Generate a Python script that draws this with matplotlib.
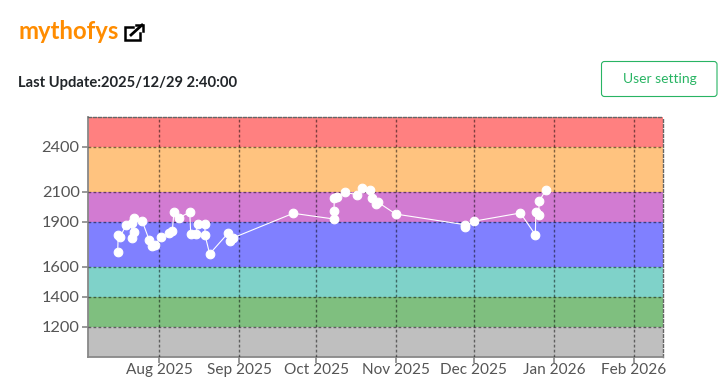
import matplotlib
matplotlib.use('Agg')
import matplotlib.pyplot as plt
import matplotlib.dates as mdates
import pandas as pd
from matplotlib.patches import FancyBboxPatch

plt.rcParams['font.family'] = ['Lato', 'DejaVu Sans']

# rating colour bands (lower, upper, colour)
band_edges = [1000, 1200, 1400, 1600, 1900, 2100, 2400, 2600]
band_colors = ['#bfbfbf', '#7fbf7f', '#7fd2c9', '#8080ff', '#d27bd2', '#ffc37f', '#ff8080']

y_ticks = [1200, 1400, 1600, 1900, 2100, 2400]
x_ticks = ['2025-08-01', '2025-09-01', '2025-10-01', '2025-11-01',
           '2025-12-01', '2026-01-01', '2026-02-01']
x_labels = ['Aug 2025', 'Sep 2025', 'Oct 2025', 'Nov 2025',
            'Dec 2025', 'Jan 2026', 'Feb 2026']

dates = [
    '2025-07-16 00:00', '2025-07-16 05:00', '2025-07-17 00:00', '2025-07-19 05:00',
    '2025-07-21 10:00', '2025-07-21 12:00', '2025-07-22 05:00', '2025-07-22 07:00',
    '2025-07-25 13:00', '2025-07-28 06:00', '2025-07-29 04:00', '2025-07-30 11:00',
    '2025-08-01 16:00', '2025-08-05 00:00', '2025-08-06 04:00', '2025-08-06 19:00',
    '2025-08-08 18:00', '2025-08-12 22:00', '2025-08-13 07:00', '2025-08-15 08:00',
    '2025-08-16 00:00', '2025-08-18 19:00', '2025-08-18 20:00', '2025-08-20 15:00',
    '2025-08-27 20:00', '2025-08-28 15:00', '2025-08-29 19:00', '2025-09-22 00:00',
    '2025-10-07 17:00', '2025-10-07 19:00', '2025-10-07 22:00', '2025-10-08 23:00',
    '2025-10-12 00:00', '2025-10-16 19:00', '2025-10-18 18:00', '2025-10-21 20:00',
    '2025-10-22 12:00', '2025-10-23 22:00', '2025-10-24 17:00', '2025-10-31 17:00',
    '2025-11-27 12:00', '2025-11-27 16:00', '2025-11-30 22:00', '2025-12-19 00:00',
    '2025-12-24 19:00', '2025-12-25 00:00', '2025-12-26 02:00', '2025-12-26 07:00',
    '2025-12-28 19:00',
]
ratings = [
    1702, 1813, 1802, 1878, 1891, 1791, 1831, 1929, 1904, 1778, 1740, 1745,
    1800, 1829, 1842, 1967, 1929, 1965, 1822, 1822, 1887, 1887, 1813, 1687,
    1827, 1771, 1795, 1958, 1920, 1973, 2060, 2069, 2098, 2082, 2129, 2113,
    2060, 2018, 2033, 1953, 1882, 1867, 1905, 1960, 1815, 1969, 1949, 2040,
    2111,
]

W, H = 724, 391
fig = plt.figure(figsize=(W / 100, H / 100), dpi=100, facecolor='white')

# page elements around the chart, in pixel coordinates
page = fig.add_axes([0, 0, 1, 1])
page.set_xlim(0, W)
page.set_ylim(H, 0)
page.axis('off')
page.text(18, 31.5, 'mythofys', color='#ff8c00', fontsize=17.2, fontweight='bold', va='center')
page.text(18, 83, 'Last Update:2025/12/29 2:40:00', color='#212529', fontsize=10.6,
          fontweight='bold', va='center')
page.add_patch(FancyBboxPatch((601.5, 61.5), 115.5, 35, boxstyle='round,pad=0,rounding_size=3',
                              fc='white', ec='#28b463', lw=0.8))
page.text(659.5, 79, 'User setting', color='#28b463', fontsize=10, ha='center', va='center')

# external link icon
page.plot([133, 125, 125, 140, 140], [27, 27, 40, 40, 33], color='black', lw=1.8, solid_joinstyle='miter')
page.plot([131, 142], [35, 25], color='black', lw=2)
page.plot([136, 143, 143], [24.5, 24.5, 31], color='black', lw=1.8, solid_joinstyle='miter')

ax = fig.add_axes([88 / W, 1 - 357 / H, 575 / W, 240 / H])
for i, color in enumerate(band_colors):
    ax.axhspan(band_edges[i], band_edges[i + 1], color=color, lw=0, zorder=1)

x = pd.to_datetime(dates)
ax.plot(x, ratings, color='white', lw=0.8, marker='o', ms=6.2, mew=0.8, mec='white', mfc='white', zorder=4)

ax.set_xlim(pd.Timestamp('2025-07-04 12:00'), pd.Timestamp('2026-02-12 06:00'))
ax.set_ylim(1000, 2600)
ax.set_yticks(y_ticks)
ax.set_xticks(mdates.date2num(pd.to_datetime(x_ticks)))
ax.set_xticklabels(x_labels)
ax.tick_params(axis='both', labelsize=11.1, colors='#888888', labelcolor='#555555', length=4, width=1.2)
ax.tick_params(axis='x', pad=0)
ax.tick_params(axis='y', pad=2, labelsize=11.8)
ax.grid(True, color='black', alpha=0.5, ls=(0, (2, 1.6)), lw=1, zorder=3)
ax.set_axisbelow(False)

for side in ['left', 'bottom']:
    ax.spines[side].set_color('#888888')
    ax.spines[side].set_linewidth(1.3)
for side in ['top', 'right']:
    ax.spines[side].set_color('#666666')
    ax.spines[side].set_linestyle((0, (2, 1.6)))
    ax.spines[side].set_linewidth(1)

fig.savefig('out.png', dpi=100)
